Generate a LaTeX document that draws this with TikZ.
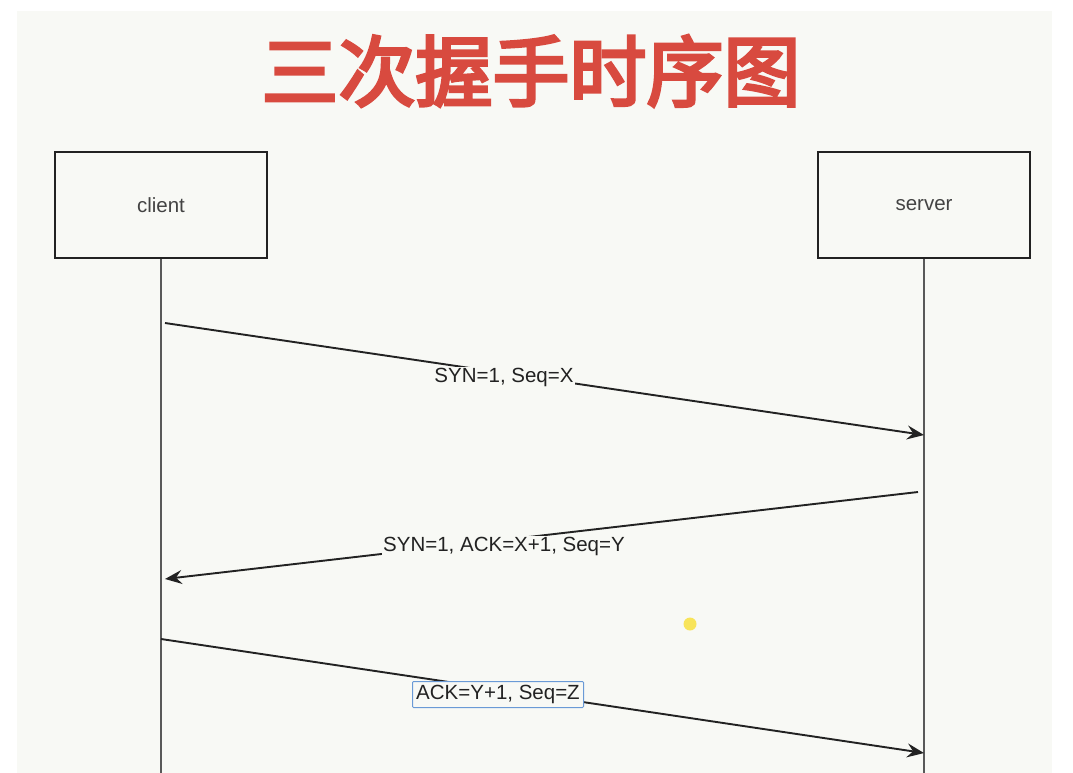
\documentclass[tikz,border=0pt]{standalone}
\usepackage{fontspec}
\setmainfont{Liberation Sans}
\newfontfamily\cjk{Noto Sans CJK SC}[AutoFakeBold=4]
\usetikzlibrary{arrows.meta}
\definecolor{panel}{HTML}{F8F9F5}
\definecolor{titlered}{HTML}{D84A3F}
\definecolor{ink}{HTML}{222222}
\definecolor{selblue}{HTML}{6A9AD6}
\definecolor{dot}{HTML}{F8E45A}
\tikzset{
  actor/.style={draw=ink, line width=1.7pt, minimum width=212pt, minimum height=106pt, inner sep=0pt, font=\fontsize{20.5}{24}\selectfont, text=ink!85},
  lifeline/.style={draw=ink!75, line width=2pt},
  msg/.style={draw=ink, line width=1.9pt, -{Stealth[length=17pt,width=14pt,inset=6pt]}},
  lbl/.style={fill=panel, inner sep=1pt, font=\fontsize{20.5}{24}\selectfont, text=ink},
}
\begin{document}
\begin{tikzpicture}[x=1pt,y=-1pt]
\useasboundingbox (0,0) rectangle (1073,773);
\fill[white] (0,0) rectangle (1073,773);
\fill[panel] (17,11) rectangle (1052,773);
\node[text=titlered, font=\cjk\bfseries\fontsize{77}{80}\selectfont, inner sep=0pt] (title) at (531,71) {三次握手时序图};
\node[actor] (client) at (161,205) {client};
\node[actor] (server) at (924,205) {server};
\coordinate (cend) at (161,773);
\coordinate (send) at (924,773);
\draw[lifeline] (client.south) -- (cend);
\draw[lifeline] (server.south) -- (send);
\coordinate (a1s) at (165,323);
\coordinate (a1e) at (924,435);
\coordinate (a2s) at (918,492);
\coordinate (a2e) at (165,579);
\coordinate (a3s) at (161,639);
\coordinate (a3e) at (924,753);
\draw[msg] (a1s) -- (a1e);
\draw[msg] (a2s) -- (a2e);
\draw[msg] (a3s) -- (a3e);
\node[lbl] (l1) at (504,377) {SYN=1, Seq=X};
\node[lbl] (l2) at (504,546) {SYN=1, ACK=X+1, Seq=Y};
\node[lbl, draw=selblue, line width=1pt, rounded corners=1pt, inner sep=1.5pt, minimum width=171pt, minimum height=26pt] (l3) at (498,694.5) {ACK=Y+1, Seq=Z};
\fill[dot] (690,624) circle (6.5pt);
\end{tikzpicture}
\end{document}
